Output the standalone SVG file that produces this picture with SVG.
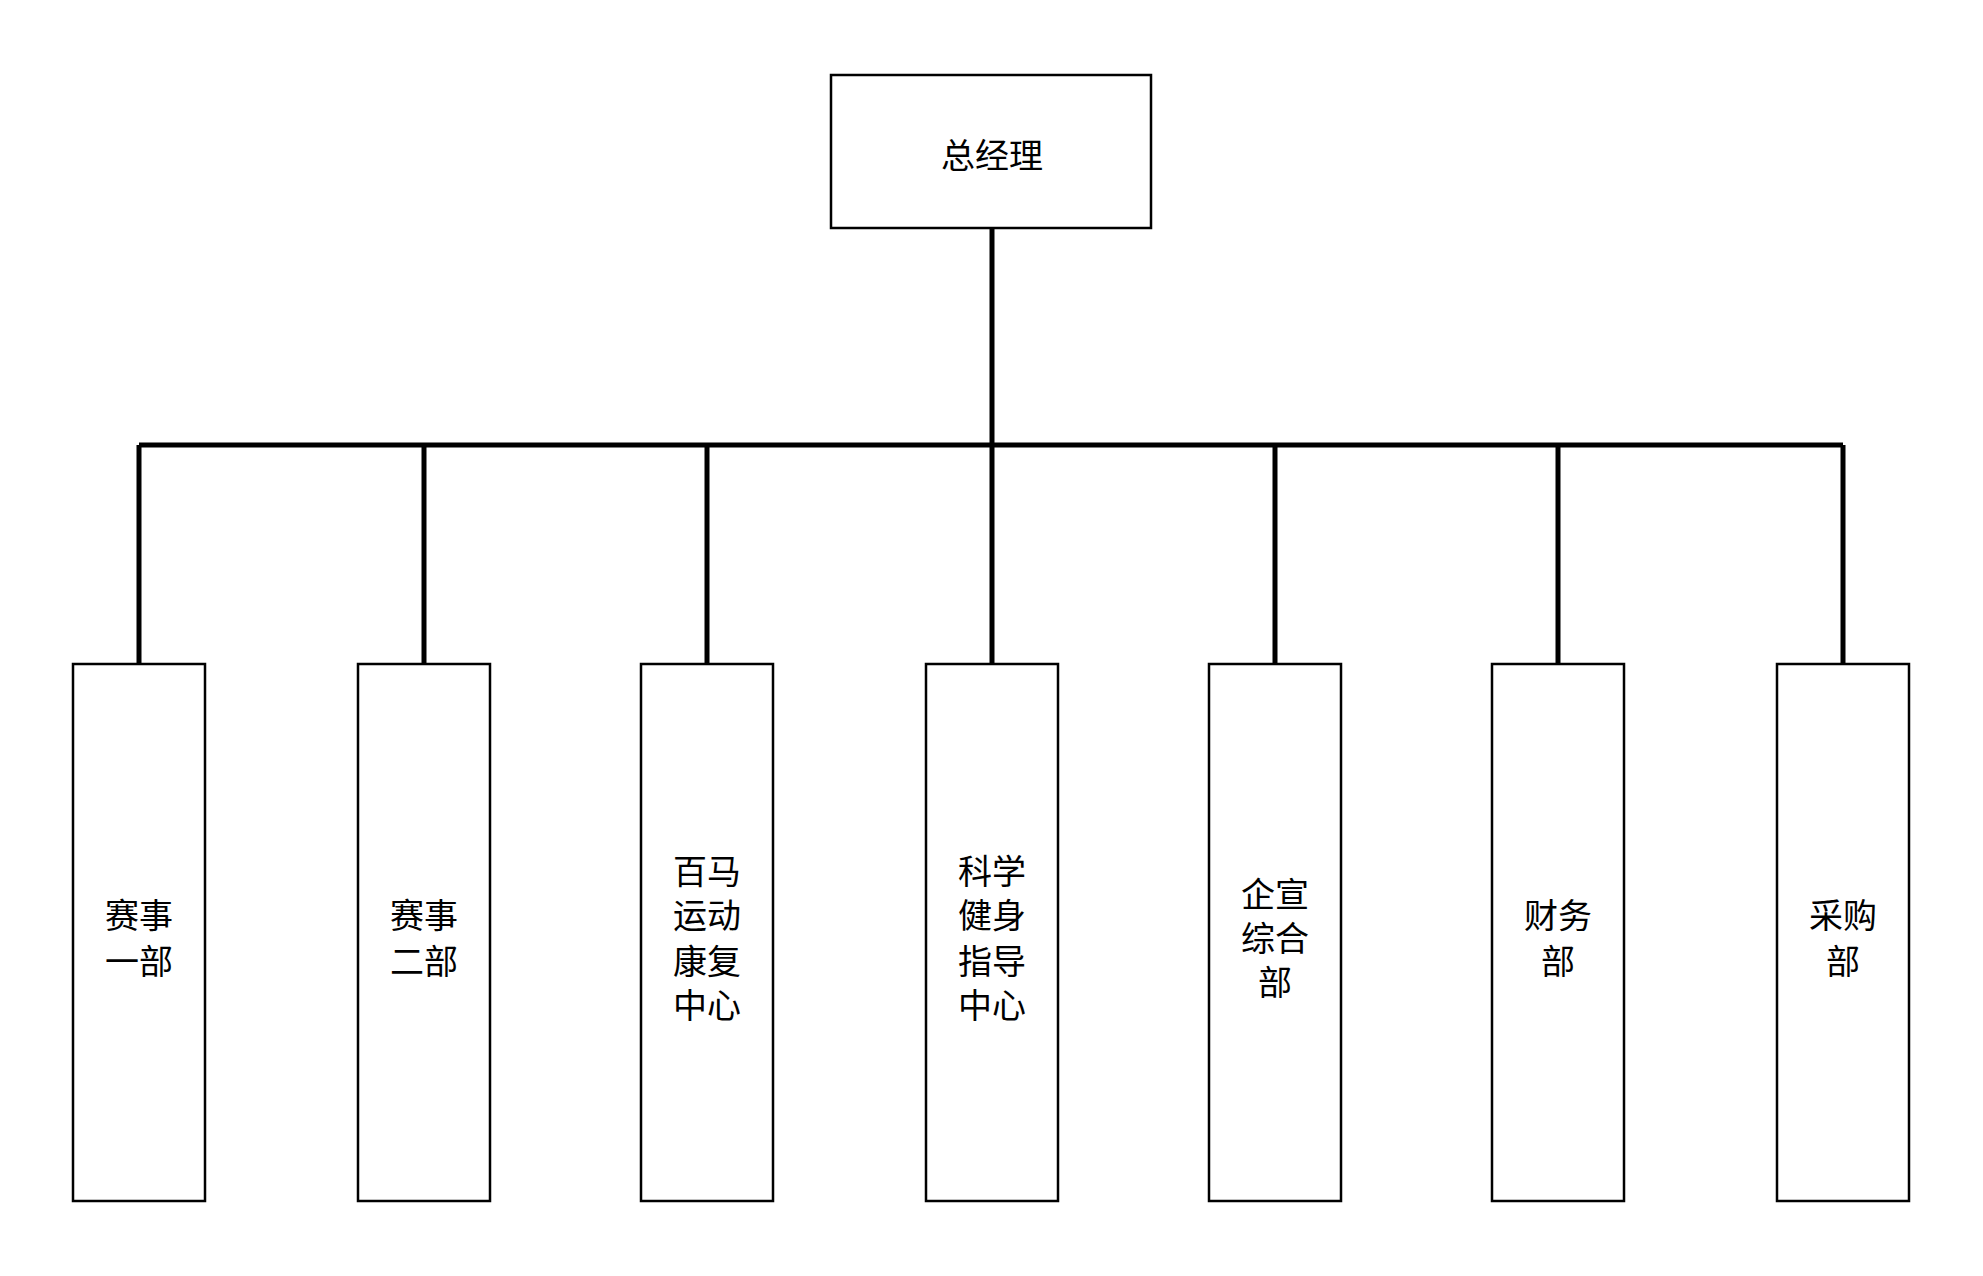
<svg xmlns="http://www.w3.org/2000/svg" width="1983" height="1276" viewBox="0 0 1983 1276">
<style>
.box{fill:#fff;stroke:#000;stroke-width:2.5}
.ln{stroke:#000;stroke-width:5;fill:none}
text{font-family:"Noto Sans CJK SC",sans-serif;font-size:34px;text-anchor:middle;dominant-baseline:central;fill:#000}
</style>
<rect width="1983" height="1276" fill="#fff"/>
<g id="connectors">
<path class="ln" d="M992 228V445M139 445H1843M139 445V664M424 445V664M707 445V664M992 445V664M1275 445V664M1558 445V664M1843 445V664"/>
</g>
<g id="gm"><rect class="box" x="831" y="75" width="320" height="153"/><text x="992" y="153">总经理</text></g>
<g id="d1"><rect class="box" x="73" y="664" width="132" height="537"/><text x="139" y="913">赛事</text><text x="139" y="959">一部</text></g>
<g id="d2"><rect class="box" x="358" y="664" width="132" height="537"/><text x="424" y="913">赛事</text><text x="424" y="959">二部</text></g>
<g id="d3"><rect class="box" x="641" y="664" width="132" height="537"/><text x="707" y="869">百马</text><text x="707" y="913">运动</text><text x="707" y="959">康复</text><text x="707" y="1003">中心</text></g>
<g id="d4"><rect class="box" x="926" y="664" width="132" height="537"/><text x="992" y="869">科学</text><text x="992" y="913">健身</text><text x="992" y="959">指导</text><text x="992" y="1003">中心</text></g>
<g id="d5"><rect class="box" x="1209" y="664" width="132" height="537"/><text x="1275" y="892">企宣</text><text x="1275" y="936">综合</text><text x="1275" y="980">部</text></g>
<g id="d6"><rect class="box" x="1492" y="664" width="132" height="537"/><text x="1558" y="913">财务</text><text x="1558" y="959">部</text></g>
<g id="d7"><rect class="box" x="1777" y="664" width="132" height="537"/><text x="1843" y="913">采购</text><text x="1843" y="959">部</text></g>
</svg>
